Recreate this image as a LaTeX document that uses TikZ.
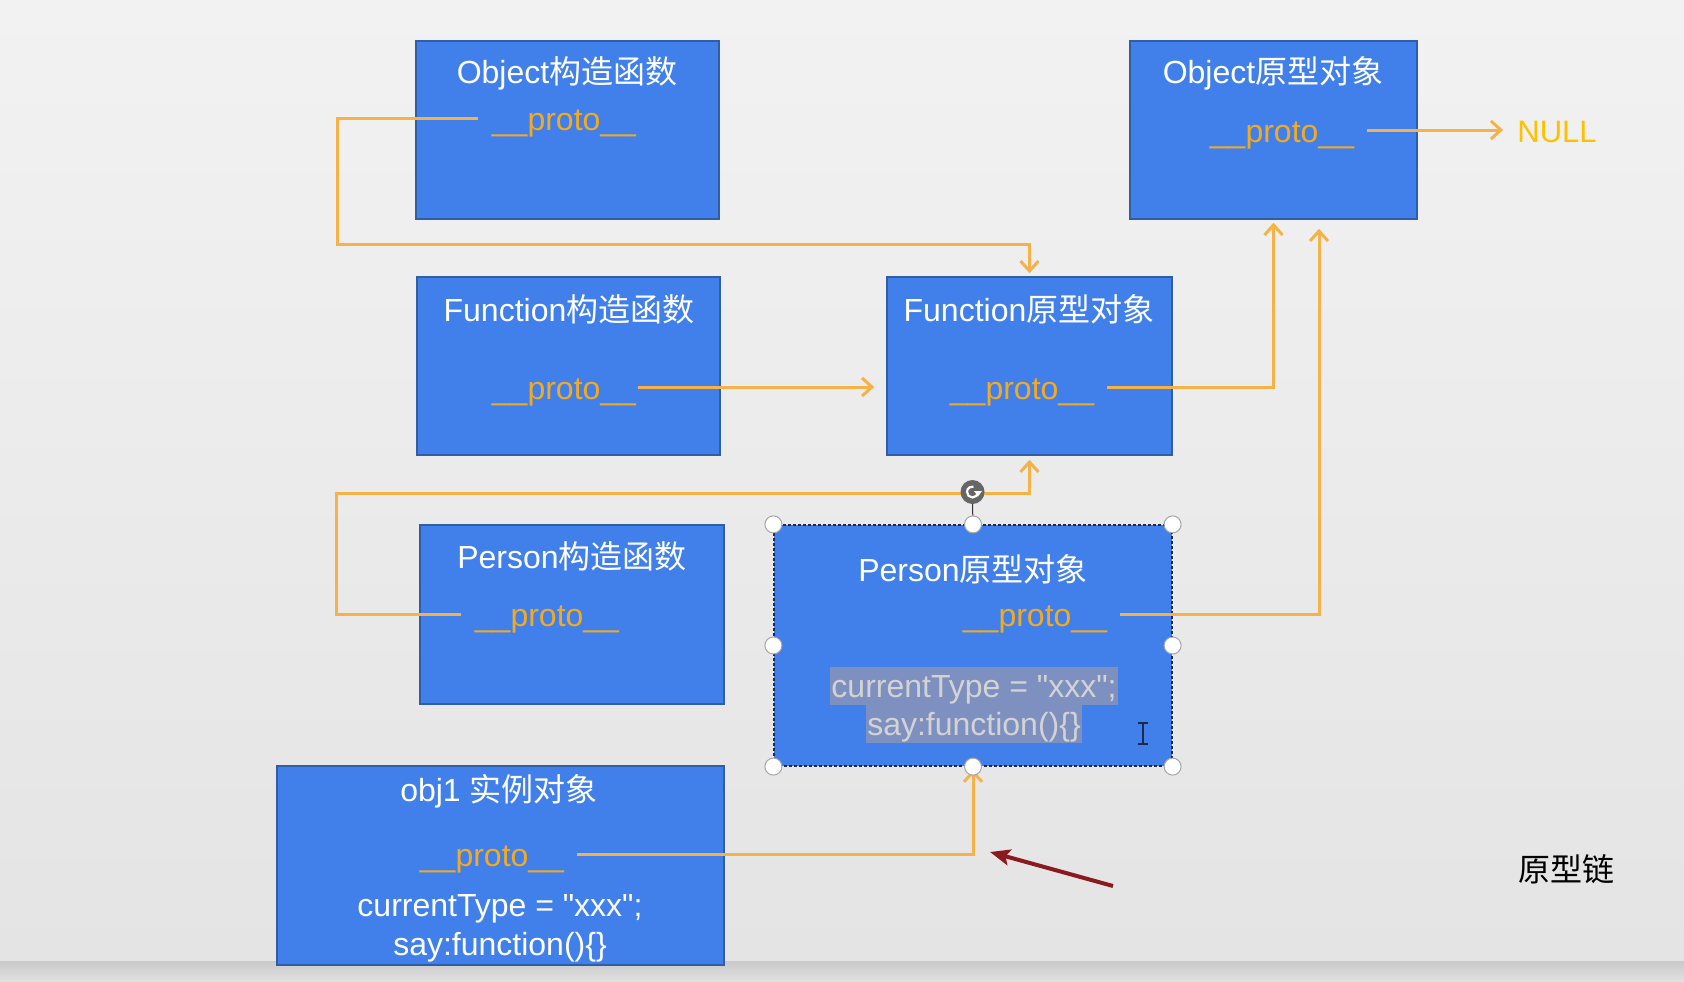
\documentclass[tikz,border=0pt]{standalone}
\usepackage{fontspec}
\setmainfont{Liberation Sans}[Ligatures=TeXOff]
\newfontfamily\cjk{Noto Sans CJK SC}
\usetikzlibrary{arrows.meta,calc,shadings}
\definecolor{bgtop}{HTML}{F2F2F2}
\definecolor{bgbot}{HTML}{E5E4E4}
\definecolor{bandtop}{HTML}{C9C9C9}
\definecolor{bandbot}{HTML}{E2E2E2}
\definecolor{boxblue}{HTML}{4180EA}
\definecolor{boxedge}{HTML}{2F5DA6}
\definecolor{lineC}{HTML}{F5B246}
\definecolor{protoC}{HTML}{F2AA22}
\definecolor{nullC}{HTML}{FFC000}
\definecolor{hlC}{HTML}{7D90C0}
\definecolor{hlText}{HTML}{D3D3D3}
\definecolor{darkred}{HTML}{8B1A1E}
\definecolor{cursorC}{HTML}{1C2A4A}
\begin{document}
\begin{tikzpicture}[x=1pt,y=-1pt,
  box/.style={draw=boxedge, line width=1.5pt, fill=boxblue, inner sep=0pt},
  selbox/.style={draw=cursorC, line width=1.2pt, dash pattern=on 3pt off 2pt, fill=boxblue, inner sep=0pt},
  title/.style={text=white, font=\fontsize{32}{38}\selectfont, inner sep=0pt, anchor=base},
  proto/.style={text=protoC, font=\fontsize{32}{38}\selectfont, inner sep=0pt, text height=24pt, text depth=0pt},
  codeline/.style={text=white, font=\fontsize{32}{38}\selectfont, inner sep=0pt, anchor=base},
  hlline/.style={text=hlText, fill=hlC, font=\fontsize{32}{38}\selectfont, inner xsep=1pt, inner ysep=0pt, text height=30pt, text depth=8pt, anchor=base},
  con/.style={draw=lineC, line width=3pt, -{Straight Barb[length=10pt,width=18pt]}},
  handle/.style={circle, draw=gray!70, line width=1pt, fill=white, minimum size=17pt, inner sep=0pt},
  redarrow/.style={draw=darkred, line width=4pt, -{Stealth[length=20pt,width=16pt,inset=4pt]}}
]
% background
\shade[top color=bgtop, bottom color=bgbot] (0,0) rectangle (1684,961);
\shade[top color=bandtop, bottom color=bandbot] (0,961) rectangle (1684,982);

% boxes
\node[box, minimum width=303pt, minimum height=178pt] (O1) at (567.5,130) {};
\node[box, minimum width=287pt, minimum height=178pt] (O2) at (1273.5,130) {};
\node[box, minimum width=303pt, minimum height=178pt] (F1) at (568.5,366) {};
\node[box, minimum width=285pt, minimum height=178pt] (F2) at (1029.5,366) {};
\node[box, minimum width=304pt, minimum height=179pt] (P1) at (572,614.5) {};
\node[selbox, minimum width=398pt, minimum height=241pt] (P2) at (973,645.5) {};
\node[box, minimum width=447pt, minimum height=199pt] (B) at (500.5,865.5) {};

% titles
\node[title] (o1t) at (567,84) {Object{\cjk 构造函数}};
\node[title] (o2t) at (1273,84) {Object{\cjk 原型对象}};
\node[title] (f1t) at (569,321) {Function{\cjk 构造函数}};
\node[title] (f2t) at (1029,321) {Function{\cjk 原型对象}};
\node[title] (p1t) at (572,568) {Person{\cjk 构造函数}};
\node[title] (p2t) at (973,581) {Person{\cjk 原型对象}};
\node[title] (bt) at (499,801) {obj1 {\cjk 实例对象}};

% proto labels
\node[proto] (o1p) at (564,118) {\_\_proto\_\_};
\node[proto] (o2p) at (1282,130) {\_\_proto\_\_};
\node[proto] (f1p) at (564,387) {\_\_proto\_\_};
\node[proto] (f2p) at (1022,387) {\_\_proto\_\_};
\node[proto] (p1p) at (547,614) {\_\_proto\_\_};
\node[proto] (p2p) at (1035,614) {\_\_proto\_\_};
\node[proto] (bp) at (492,854) {\_\_proto\_\_};
\node[proto, text=nullC, font=\fontsize{31}{36}\selectfont] (null) at (1557,130) {NULL};

% code text
\node[hlline] (p2c1) at (974,697) {currentType = "xxx";};
\node[hlline] (p2c2) at (974,735) {say:function()\{\}};
\node[codeline] (bc1) at (500,916) {currentType = "xxx";};
\node[codeline] (bc2) at (500,955) {say:function()\{\}};

% chain label
\node[anchor=base, inner sep=0pt, font=\cjk\fontsize{32}{38}\selectfont, text=black] (chain) at (1566,881) {原型链};

% connectors
\draw[con] ([xshift=-14pt]o1p.west) -- ++(-140,0) |- ([yshift=32pt]F2.north) -- ([yshift=3pt]F2.north);
\draw[con] ([xshift=2pt]f1p.east) -- ($(F2.west |- f1p.east)+(-12,0)$);
\draw[con] ([xshift=13pt]f2p.east) -| ([yshift=-3pt]O2.south);
\draw[con] ([xshift=-14pt]p1p.west) -- ++(-124,0) |- ([yshift=-38pt]F2.south) -- ([yshift=-4pt]F2.south);
\draw[con] ([xshift=13pt]p2p.east) -| ($(O2.south)+(45.5,9)$);
\draw[con] ([xshift=13pt]bp.east) -| ([yshift=-3pt]P2.south);
\draw[con] ([xshift=13pt]o2p.east) -- ([xshift=-14pt]null.west);

% selection handles
\node[circle, fill=gray!80!black, minimum size=24pt, inner sep=0pt] (rot) at (972.5,492) {};
\draw[gray!40!black, line width=1pt] (rot.south) -- (P2.north);
\draw[white, line width=2.2pt] ($(rot.center)+(5.5,0)$) arc[start angle=0, end angle=-280, radius=5.5pt];
\fill[white] ($(rot.center)+(1.5,-1)$) -- ($(rot.center)+(9.5,-1)$) -- ($(rot.center)+(5.5,4.5)$) -- cycle;
\foreach \a [count=\i] in {north west, north, north east, west, east, south west, south, south east}
  \node[handle] (h\i) at (P2.\a) {};

% text cursor
\draw[cursorC, line width=2pt] (1143,723) -- (1143,744);
\draw[cursorC, line width=1.6pt] (1138,723) -- (1148,723) (1138,744) -- (1148,744);

% red arrow
\coordinate (rtail) at (1113,886);
\coordinate (rhead) at (990,852);
\draw[redarrow] (rtail) -- (rhead);
\end{tikzpicture}
\end{document}
